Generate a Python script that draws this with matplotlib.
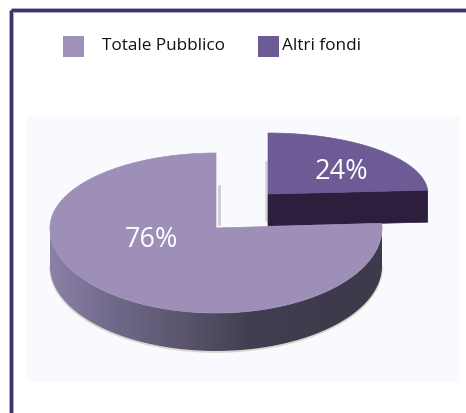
import numpy as np
import matplotlib.pyplot as plt
from matplotlib.patches import Polygon, Rectangle
from matplotlib.colors import LinearSegmentedColormap

# %% Data
labels = ["Totale Pubblico", "Altri fondi"]
values = [76, 24]
pct_labels = [f"{v}%" for v in values]

# %% Style
top_colors = ["#9d8fb8", "#6e5b96"]
legend_colors = ["#9e90b8", "#6d5b95"]
side_dark = "#2c1e3c"
side_cmap = LinearSegmentedColormap.from_list(
    "side", ["#8b81a8", "#6f6888", "#5b556d", "#433f52", "#3f3b4d", "#3d3a4b"])
font = "Open Sans"

# per-slice ellipse geometry in pixel coords (apex, radii, back/front half, thickness)
geom = [
    dict(cx=216, cy=228, a=166, bb=75, bf=85, h=38),
    dict(cx=268, cy=194, a=160, bb=61, bf=70, h=32),
]
label_xy = [(151, 240), (341, 172)]

W, H = 466, 413
fig = plt.figure(figsize=(W / 100, H / 100), dpi=100)
ax = fig.add_axes([0, 0, 1, 1])
ax.set_xlim(0, W)
ax.set_ylim(H, 0)
ax.axis("off")

# frame (cropped: only top and left visible)
ax.plot([10.5, W], [10, 10], color="#b3b0cc", lw=3.6, solid_capstyle="butt", zorder=1)
ax.plot([10.5, W], [10, 10], color="#3c356a", lw=2.2, solid_capstyle="butt", zorder=2)
ax.plot([11, 11], [10, H], color="#b3b0cc", lw=3.6, solid_capstyle="butt", zorder=1)
ax.plot([11, 11], [10, H], color="#3c356a", lw=2.2, solid_capstyle="butt", zorder=2)

# light panel behind the pie
ax.add_patch(Rectangle((27, 117), 433, 265, facecolor="#f9fafd", edgecolor="none", zorder=0))


def rim(g, t):
    t = np.radians(np.atleast_1d(t))
    s = np.sin(t)
    b = np.where(s > 0, g["bb"], g["bf"])
    return g["cx"] + g["a"] * np.cos(t), g["cy"] - b * s


# angles: clockwise from 12 o'clock, "Altri fondi" first
total = sum(values)
order = [1, 0]
start = 90.0
spans = {}
for i in order:
    end = start - values[i] / total * 360.0
    spans[i] = (end, start)
    start = end

# draw back slice first (Altri fondi), then front slice
for i in [1, 0]:
    g = geom[i]
    t0, t1 = spans[i]
    z = 3 if i == 1 else 6
    # front radial face at the lower angle edge
    rx, ry = rim(g, t0)
    if i == 1:
        face = [(g["cx"], g["cy"]), (rx[0], ry[0]),
                (rx[0], ry[0] + g["h"]), (g["cx"], g["cy"] + g["h"])]
        ax.add_patch(Polygon(face, closed=True, facecolor=side_dark, edgecolor=side_dark,
                             lw=0.5, zorder=z))
    # curved side, visible part (lower half)
    lo, hi = max(t0, -180.0), min(t1, 0.0)
    if hi > lo:
        ts = np.linspace(lo, hi, 200)
        sx, sy = rim(g, ts)
        pts = np.column_stack([np.r_[sx, sx[::-1]], np.r_[sy, sy[::-1] + g["h"]]])
        side = Polygon(pts, closed=True, facecolor="none", edgecolor="none", zorder=z)
        ax.add_patch(side)
        grad = np.linspace(0, 1, 256).reshape(1, -1)
        im = ax.imshow(grad, cmap=side_cmap, aspect="auto", zorder=z,
                       extent=[g["cx"] - g["a"], g["cx"] + g["a"],
                               g["cy"] + g["bf"] + g["h"] + 2, g["cy"] - 5])
        im.set_clip_path(side)
        # soft shadow line under the disc
        ax.plot(sx, sy + g["h"] + 1, color="#c9bba8", lw=1.2, alpha=0.6, zorder=z - 0.5)
    # top surface
    ts = np.linspace(t0, t1, 300)
    tx, ty = rim(g, ts)
    top = np.column_stack([np.r_[g["cx"], tx], np.r_[g["cy"], ty]])
    ax.add_patch(Polygon(top, closed=True, facecolor=top_colors[i], edgecolor=top_colors[i],
                         lw=0.5, zorder=z + 1))
    ax.text(*label_xy[i], pct_labels[i], color="white", fontsize=19.5, family=font,
            ha="center", va="center", zorder=z + 2)

# thin shadows along the vertical cuts
g0, g1 = geom[0], geom[1]
ax.plot([g0["cx"] + 3, g0["cx"] + 3], [g0["cy"] - 42, g0["cy"] - 4], color="#8a8a8a",
        lw=1.8, alpha=0.45, zorder=4)
ax.plot([g1["cx"] - 2, g1["cx"] - 2], [g1["cy"] - 32, g1["cy"] + 26], color="#8a8a8a",
        lw=1.8, alpha=0.35, zorder=2.5)

# legend
leg_x = [63, 258]
txt_x = [102, 282]
for i in range(len(labels)):
    ax.add_patch(Rectangle((leg_x[i], 36), 21, 21, facecolor=legend_colors[i],
                           edgecolor="none", zorder=5))
    ax.text(txt_x[i], 46.5, labels[i], fontsize=12.3, family=font, color="#111111",
            ha="left", va="center", zorder=5)

fig.savefig("out.png", dpi=100)
